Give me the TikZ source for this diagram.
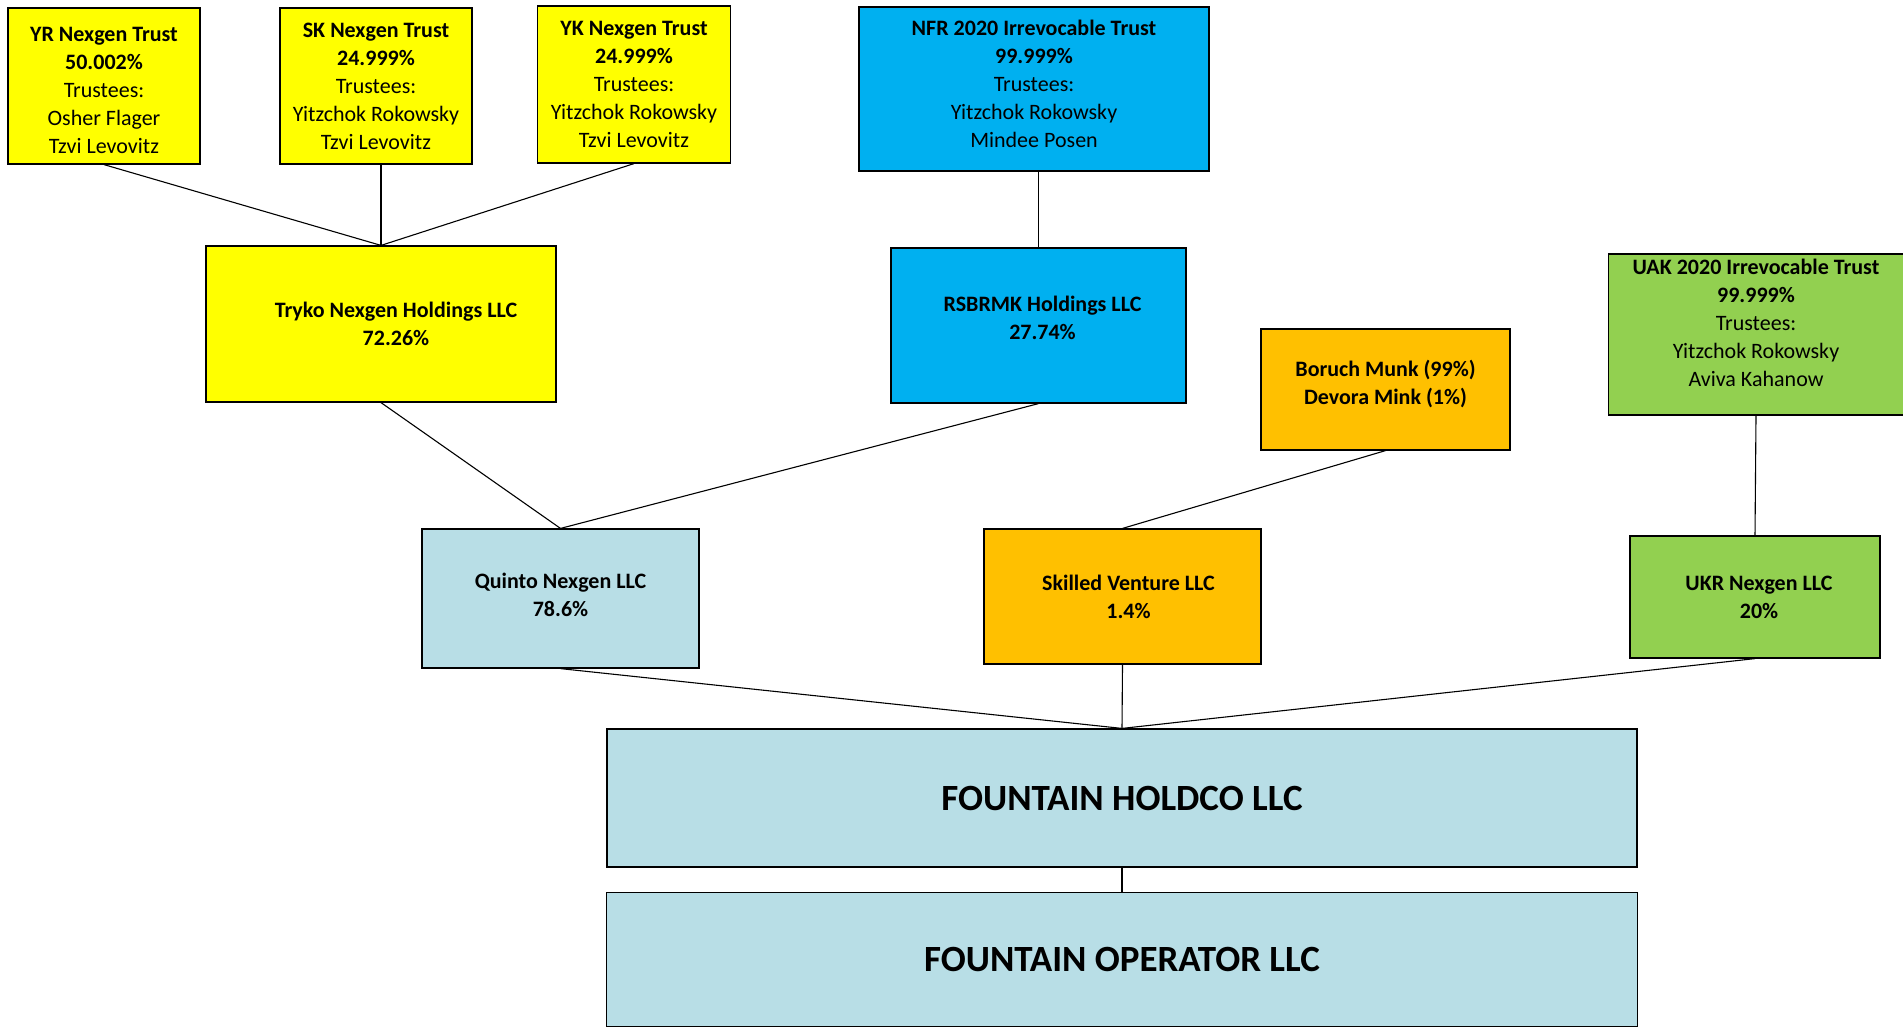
\documentclass[tikz,border=0pt]{standalone}
\usepackage{fontspec}
\setmainfont{Carlito}
\usepackage{tikz}
\usepackage{xcolor}
\usetikzlibrary{positioning, calc}
\definecolor{TrustYellow}{HTML}{FFFF00}
\definecolor{NfrBlue}{HTML}{00B0F0}
\definecolor{PaleBlue}{HTML}{B8DEE6}
\definecolor{SkillOrange}{HTML}{FFC000}
\definecolor{UakGreen}{HTML}{92D050}
\newcommand{\pct}[1]{\textbf{#1\%}}

\begin{document}
\begin{tikzpicture}[
    x=1pt, y=-1pt,
    ent/.style={
      draw=black,
      line width=1.2pt,
      inner sep=0pt,
      align=center,
      font=\fontsize{22}{28}\selectfont,
    },
    big/.style={
      ent,
      fill=PaleBlue,
      font=\bfseries\fontsize{37}{42}\selectfont,
    },
    link/.style={line width=1.1pt},
  ]
    \useasboundingbox (0,0) rectangle (1903,1029);

    % ---- Trusts at the top ----
    \node[ent, fill=TrustYellow, minimum width=192pt, minimum height=156pt,
      text height=136pt]
      (yr) at (104,86) {%
      \textbf{YR Nexgen Trust}\\ \pct{50.002}\\ Trustees:\\
      Osher Flager\\ Tzvi Levovitz};
    \node[ent, fill=TrustYellow, minimum width=192pt, minimum height=156pt]
      (sk) at (376,86) {%
      \textbf{SK Nexgen Trust}\\ \pct{24.999}\\ Trustees:\\
      Yitzchok Rokowsky\\ Tzvi Levovitz};
    \node[ent, fill=TrustYellow, minimum width=193pt, minimum height=157pt]
      (yk) at (634,84.5) {%
      \textbf{YK Nexgen Trust}\\ \pct{24.999}\\ Trustees:\\
      Yitzchok Rokowsky\\ Tzvi Levovitz};
    \node[ent, fill=NfrBlue, minimum width=350pt, minimum height=164pt,
      text depth=10pt]
      (nfr) at (1034,89) {%
      \textbf{NFR 2020 Irrevocable Trust}\\ \pct{99.999}\\ Trustees:\\
      Yitzchok Rokowsky\\ Mindee Posen};
    \node[ent, fill=UakGreen, minimum width=295pt, minimum height=161pt,
      text depth=24pt]
      (uak) at (1756,334.5) {%
      \textbf{UAK 2020 Irrevocable Trust}\\ \pct{99.999}\\ Trustees:\\
      Yitzchok Rokowsky\\ Aviva Kahanow};

    % ---- Holding companies ----
    \node[ent, fill=TrustYellow, minimum width=350pt, minimum height=156pt]
      (tryko) at (381,324) {%
      \hspace*{30pt}\textbf{Tryko Nexgen Holdings LLC}\\
      \hspace*{30pt}\pct{72.26}};
    \node[ent, fill=NfrBlue, minimum width=295pt, minimum height=155pt,
      text depth=15pt]
      (rsb) at (1038.5,325.5) {%
      \hspace*{8pt}\textbf{RSBRMK Holdings LLC}\\ \hspace*{8pt}\pct{27.74}};
    \node[ent, fill=SkillOrange, minimum width=249pt, minimum height=121pt,
      text depth=15pt]
      (munk) at (1385.5,389.5) {%
      \textbf{Boruch Munk (99\%)}\\ \textbf{Devora Mink (1\%)}};

    % ---- Members of Holdco ----
    \node[ent, fill=PaleBlue, minimum width=277pt, minimum height=139pt,
      text depth=8pt]
      (quinto) at (560.5,598.5) {%
      \textbf{Quinto Nexgen LLC}\\ \pct{78.6}};
    \node[ent, fill=SkillOrange, minimum width=277pt, minimum height=135pt]
      (skilled) at (1122.5,596.5) {%
      \hspace*{12pt}\textbf{Skilled Venture LLC}\\ \hspace*{12pt}\pct{1.4}};
    \node[ent, fill=UakGreen, minimum width=250pt, minimum height=122pt]
      (ukr) at (1755,597) {%
      \hspace*{8pt}\textbf{UKR Nexgen LLC}\\ \hspace*{8pt}\pct{20}};

    % ---- Fountain entities ----
    \node[big, minimum width=1030pt, minimum height=138pt]
      (holdco) at (1122,798) {FOUNTAIN HOLDCO LLC};
    \node[big, minimum width=1031pt, minimum height=134pt,
      below=24pt of holdco] (oper) {FOUNTAIN OPERATOR LLC};

    % ---- ownership lines ----
    \draw[link] (yr.south) -- (tryko.north);
    \draw[link] (tryko.north) -- (tryko.north |- sk.south);
    \draw[link] (yk.south) -- (tryko.north);
    \draw[link] (rsb.north) -- (rsb.north |- nfr.south);
    \draw[link] (tryko.south) -- (quinto.north);
    \draw[link] (rsb.south) -- (quinto.north);
    \draw[link] (munk.south) -- (skilled.north);
    \draw[link] (uak.south) -- (ukr.north);
    \foreach \m in {quinto, skilled, ukr}
      \draw[link] (\m.south) -- (holdco.north);
    \draw[link] (holdco.south) -- (oper.north);
  \end{tikzpicture}
\end{document}
